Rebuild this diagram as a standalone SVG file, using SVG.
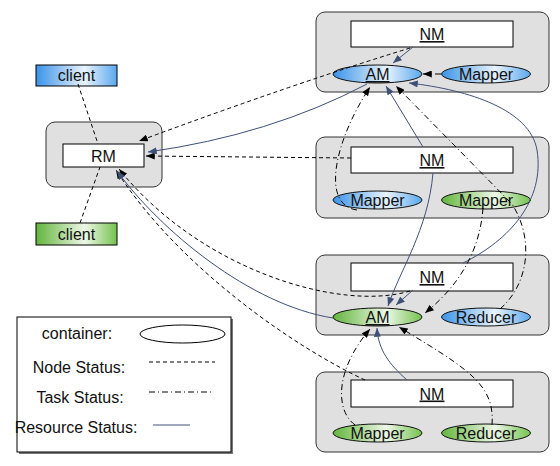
<svg xmlns="http://www.w3.org/2000/svg" width="560" height="466" viewBox="0 0 560 466">
<defs>
<linearGradient id="gb" x1="0" y1="0" x2="1" y2="0">
<stop offset="0" stop-color="#3a93e8"/><stop offset="0.6" stop-color="#e9f3fd"/><stop offset="1" stop-color="#5aa8ee"/>
</linearGradient>
<linearGradient id="gg" x1="0" y1="0" x2="1" y2="0">
<stop offset="0" stop-color="#62b53c"/><stop offset="0.6" stop-color="#eef7e8"/><stop offset="1" stop-color="#74c24e"/>
</linearGradient>
<marker id="ak" viewBox="0 0 10 8" refX="10" refY="4" markerWidth="9" markerHeight="7" orient="auto" markerUnits="userSpaceOnUse"><path d="M0,0 L10,4 L0,8 z" fill="#000"/></marker>
<marker id="an" viewBox="0 0 10 8" refX="10" refY="4" markerWidth="9" markerHeight="7" orient="auto" markerUnits="userSpaceOnUse"><path d="M0,0 L10,4 L0,8 z" fill="#3f5078"/></marker>
<style>
.box{fill:#e0e0e0;stroke:#333;stroke-width:1}
.wr{fill:#fff;stroke:#000;stroke-width:1}
.eb{fill:url(#gb);stroke:#111;stroke-width:1}
.eg{fill:url(#gg);stroke:#111;stroke-width:1}
text{font-family:"Liberation Sans",Arial,Helvetica,sans-serif;font-size:16px;fill:#111}
.c{text-anchor:middle}
.u{text-decoration:underline}
.ns{fill:none;stroke:#000;stroke-width:1;stroke-dasharray:4,3}
.ts{fill:none;stroke:#000;stroke-width:1;stroke-dasharray:6,3,1,3}
.rs{fill:none;stroke:#3f5078;stroke-width:1}
</style>
</defs>
<rect width="560" height="466" fill="#fff"/>

<g id="client1"><rect x="36" y="65" width="81" height="21" fill="url(#gb)" stroke="#000"/><text x="76.5" y="81" class="c">client</text></g>
<g id="client2"><rect x="36" y="223" width="81" height="22" fill="url(#gg)" stroke="#000"/><text x="76.5" y="240" class="c">client</text></g>

<g id="rm"><rect x="46" y="122" width="116" height="65" rx="9" class="box"/><rect x="63" y="144" width="81" height="23" class="wr"/><text x="103.5" y="161.5" class="c">RM</text></g>

<g id="node1">
<rect x="316" y="12" width="233" height="80" rx="9" class="box"/>
<rect x="351" y="21" width="162" height="26" class="wr"/><text x="432" y="40" class="c u">NM</text>
<ellipse cx="377.5" cy="74" rx="44.5" ry="9" class="eb"/><text x="377.5" y="80" class="c u">AM</text>
<ellipse cx="486" cy="74" rx="44.5" ry="9" class="eb"/><text x="486" y="80" class="c">Mapper</text>
</g>
<g id="node2">
<rect x="316" y="137" width="233" height="81" rx="9" class="box"/>
<rect x="351" y="147" width="162" height="26" class="wr"/><text x="432" y="166" class="c u">NM</text>
<ellipse cx="377.5" cy="200" rx="44.5" ry="9" class="eb"/><text x="377.5" y="206" class="c">Mapper</text>
<ellipse cx="486" cy="200" rx="44.5" ry="9" class="eg"/><text x="486" y="206" class="c">Mapper</text>
</g>
<g id="node3">
<rect x="316" y="255" width="233" height="80" rx="9" class="box"/>
<rect x="351" y="263" width="162" height="28" class="wr"/><text x="432" y="283" class="c u">NM</text>
<ellipse cx="377.5" cy="317" rx="44.5" ry="9" class="eg"/><text x="377.5" y="323" class="c u">AM</text>
<ellipse cx="486" cy="317" rx="44.5" ry="9" class="eb"/><text x="486" y="323" class="c">Reducer</text>
</g>
<g id="node4">
<rect x="316" y="372" width="233" height="80" rx="9" class="box"/>
<rect x="351" y="380" width="162" height="27" class="wr"/><text x="432" y="399.5" class="c u">NM</text>
<ellipse cx="377.5" cy="433" rx="44.5" ry="9" class="eg"/><text x="377.5" y="439" class="c">Mapper</text>
<ellipse cx="486" cy="433" rx="44.5" ry="9" class="eg"/><text x="486" y="439" class="c">Reducer</text>
</g>

<g id="legend">
<rect x="19" y="319" width="214" height="135" fill="#777"/>
<rect x="17" y="317" width="214" height="135" fill="#fff" stroke="#000"/>
<text x="77" y="339" class="c">container:</text>
<ellipse cx="182.5" cy="334" rx="42.5" ry="9" fill="#fff" stroke="#000"/>
<text x="79" y="373" class="c">Node Status:</text>
<line x1="149" y1="362" x2="215" y2="362" class="ns"/>
<text x="80" y="403" class="c">Task Status:</text>
<line x1="149" y1="392" x2="214" y2="392" class="ts"/>
<text x="76" y="433" class="c">Resource Status:</text>
<line x1="153" y1="425" x2="190" y2="425" class="rs"/>
</g>

<g id="connectors">
<path d="M78,84 L98,144" class="ns"/>
<path d="M80,223 L100,167" class="ns"/>
<path d="M410,48 Q290,85 139,141" class="ns" marker-end="url(#ak)"/>
<path d="M351,158 L146,156" class="ns" marker-end="url(#ak)"/>
<path d="M410,291 C340,312 200,270 119,169" class="ns" marker-end="url(#ak)"/>
<path d="M365,380 C300,350 180,270 116,170" class="ns" marker-end="url(#ak)"/>

<path d="M413,47 L393,63" class="rs" marker-end="url(#an)"/>
<path d="M367,84 Q270,135 148,152" class="rs" marker-end="url(#an)"/>
<path d="M423,147 L386,86" class="rs" marker-end="url(#an)"/>
<path d="M433,173 C428,230 400,270 388,306" class="rs" marker-end="url(#an)"/>
<path d="M463,263 C510,240 545,200 537,150 C530,110 470,90 409,83" class="rs" marker-end="url(#an)"/>
<path d="M413,290 L396,305" class="rs" marker-end="url(#an)"/>
<path d="M333,318 C250,305 160,230 117,171" class="rs" marker-end="url(#an)"/>
<path d="M407,380 C390,365 378,350 377,328" class="rs" marker-end="url(#an)"/>

<path d="M441,74 L423,74" class="ts" marker-end="url(#ak)"/>
<path d="M357,210 C320,205 335,140 370,87" class="ts" marker-end="url(#ak)"/>
<path d="M500,309 C528,285 535,240 512,204 L396,86" class="ts" marker-end="url(#ak)"/>
<path d="M483,208 C480,250 460,285 425,313" class="ts" marker-end="url(#ak)"/>
<path d="M355,425 C335,410 335,370 370,329" class="ts" marker-end="url(#ak)"/>
<path d="M492,425 C495,385 470,370 399,327" class="ts" marker-end="url(#ak)"/>
</g>
</svg>
